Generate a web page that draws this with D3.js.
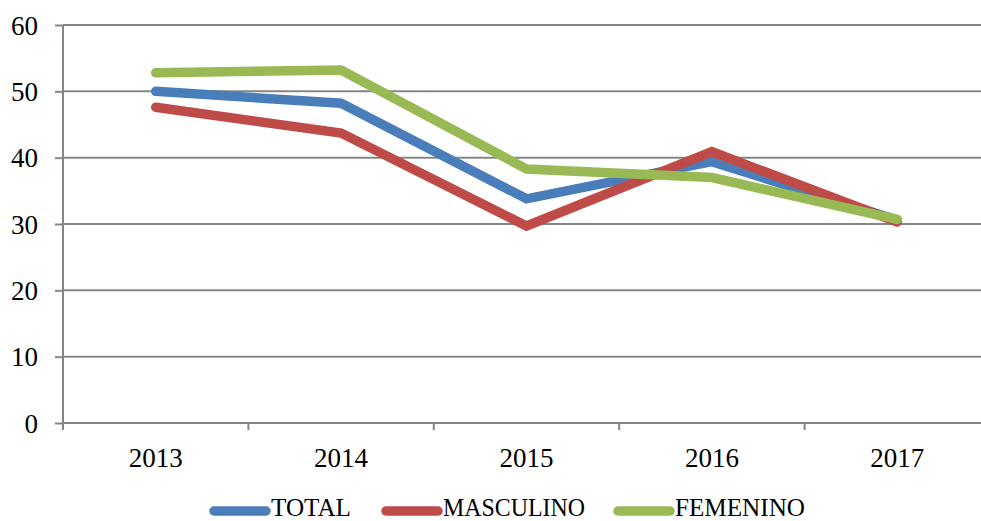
<!DOCTYPE html>
<html>
<head>
<meta charset="utf-8">
<script src="https://cdn.jsdelivr.net/npm/d3@7"></script>
<style>
  html, body { margin: 0; padding: 0; background: #fff; }
  svg { display: block; }
</style>
</head>
<body>
<svg id="chart" width="981" height="521"></svg>
<script>
// Years on the category axis
const years = ["2013", "2014", "2015", "2016", "2017"];
// Series values per year
const total = [50.0, 48.2, 33.8, 39.4, 30.6];
const masculino = [47.6, 43.7, 29.7, 40.9, 30.3];
const femenino = [52.8, 53.2, 38.3, 37.0, 30.7];
// Value axis ticks
const yTicks = [0, 10, 20, 30, 40, 50, 60];

const seriesNames = ["TOTAL", "MASCULINO", "FEMENINO"];
const seriesColors = ["#4a7ebb", "#be4b48", "#98b954"];
const seriesData = [total, masculino, femenino];

const svg = d3.select("#chart");
const plot = { left: 63, right: 990, top: 25, bottom: 423 };
const axisColor = "#868686";
const font = "'Liberation Serif', 'DejaVu Serif', serif";

const x = d3.scaleBand().domain(years).range([plot.left, plot.right]).paddingInner(0).paddingOuter(0);
const y = d3.scaleLinear().domain([0, 60]).range([plot.bottom, plot.top]);

// Horizontal gridlines
svg.append("g")
  .selectAll("line")
  .data(yTicks.filter(t => t > 0))
  .join("line")
  .attr("x1", plot.left).attr("x2", plot.right)
  .attr("y1", d => y(d)).attr("y2", d => y(d))
  .attr("stroke", axisColor).attr("stroke-width", 2);

// Y axis
const yAxis = svg.append("g")
  .attr("transform", `translate(${plot.left},0)`)
  .call(d3.axisLeft(y).tickValues(yTicks).tickSize(8).tickPadding(17).tickSizeOuter(0));
yAxis.select(".domain").attr("stroke", axisColor).attr("stroke-width", 2)
  .attr("d", `M0,${plot.top}V${plot.bottom + 7}`);
yAxis.selectAll(".tick line").attr("stroke", axisColor).attr("stroke-width", 2);
yAxis.selectAll(".tick text")
  .attr("font-family", font).attr("font-size", 27).attr("fill", "#000")
  .attr("dy", "0.34em");

// X axis with ticks on category boundaries
const xAxis = svg.append("g")
  .attr("transform", `translate(0,${plot.bottom})`)
  .call(d3.axisBottom(x).tickSize(0).tickPadding(0).tickSizeOuter(0));
xAxis.select(".domain").attr("stroke", axisColor).attr("stroke-width", 2)
  .attr("d", `M${plot.left},0H${plot.right}`);
xAxis.selectAll(".tick text")
  .attr("font-family", font).attr("font-size", 27).attr("fill", "#000")
  .attr("y", 44).attr("dy", 0);
const boundaries = years.map(d => x(d)).concat([plot.right]);
xAxis.append("g").selectAll("line")
  .data(boundaries)
  .join("line")
  .attr("x1", d => d).attr("x2", d => d)
  .attr("y1", 0).attr("y2", 7)
  .attr("stroke", axisColor).attr("stroke-width", 2);

// Series lines
const line = d3.line()
  .x((d, i) => x(years[i]) + x.bandwidth() / 2)
  .y(d => y(d));

svg.append("g")
  .selectAll("path")
  .data(seriesData)
  .join("path")
  .attr("d", d => line(d))
  .attr("fill", "none")
  .attr("stroke", (d, i) => seriesColors[i])
  .attr("stroke-width", 9.5)
  .attr("stroke-linecap", "round")
  .attr("stroke-linejoin", "miter");

// Legend
const legendItems = [
  { name: seriesNames[0], color: seriesColors[0], x0: 214, textLen: 80 },
  { name: seriesNames[1], color: seriesColors[1], x0: 386, textLen: 142 },
  { name: seriesNames[2], color: seriesColors[2], x0: 618, textLen: 130 }
];
const legend = svg.append("g");
const lg = legend.selectAll("g").data(legendItems).join("g");
lg.append("line")
  .attr("x1", d => d.x0).attr("x2", d => d.x0 + 52)
  .attr("y1", 511).attr("y2", 511)
  .attr("stroke", d => d.color).attr("stroke-width", 9.5)
  .attr("stroke-linecap", "round");
lg.append("text")
  .attr("x", d => d.x0 + 57).attr("y", 516)
  .attr("font-family", font).attr("font-size", 26).attr("fill", "#000")
  .attr("textLength", d => d.textLen).attr("lengthAdjust", "spacingAndGlyphs")
  .text(d => d.name);
</script>
</body>
</html>
